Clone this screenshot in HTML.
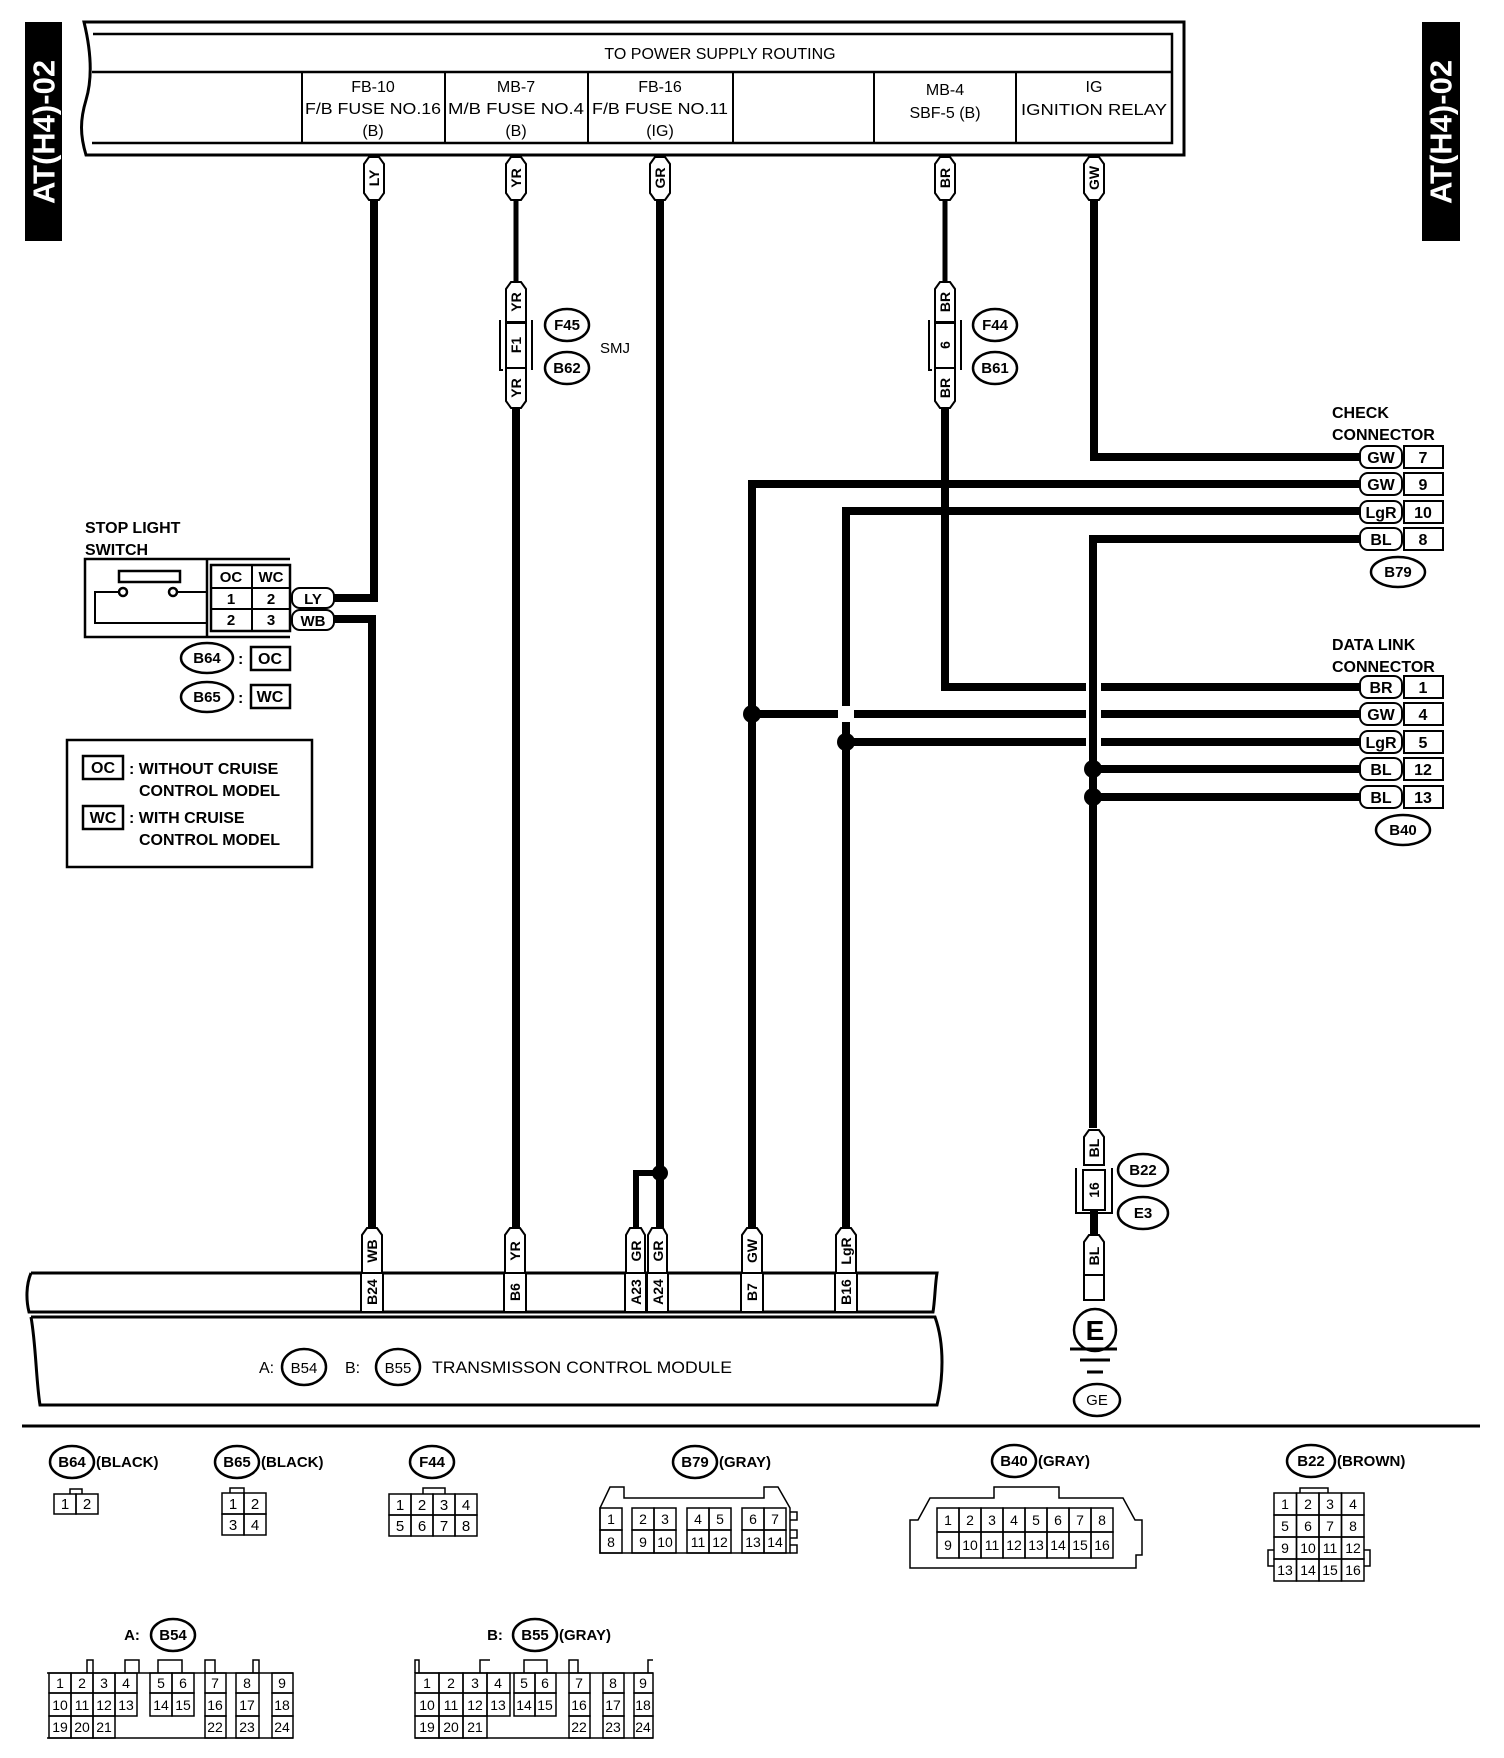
<!DOCTYPE html>
<html><head><meta charset="utf-8"><style>
html,body{margin:0;padding:0;background:#fff}
svg{display:block}
text{font-family:"Liberation Sans",sans-serif;fill:#000}
.c{fill:none;stroke:#000;stroke-width:1.5}
.n{font-size:15px;text-anchor:middle}
.b{font-weight:bold}
.w{fill:none;stroke:#000;stroke-width:8}
.t{fill:none;stroke:#000;stroke-width:5}
.p{fill:#fff;stroke:#000;stroke-width:2}
.r{font-size:14px;font-weight:bold;text-anchor:middle;dominant-baseline:central}
.e{fill:#fff;stroke:#000;stroke-width:2.5}
</style></head><body>
<svg width="1504" height="1758" viewBox="0 0 1504 1758" xmlns="http://www.w3.org/2000/svg">
<!-- side tabs -->
<rect x="25" y="22" width="37" height="219" fill="#000"/>
<text transform="translate(44,132) rotate(-90)" text-anchor="middle" dominant-baseline="central" style="font-size:31px;font-weight:bold;fill:#fff">AT(H4)-02</text>
<rect x="1422" y="22" width="38" height="219" fill="#000"/>
<text transform="translate(1441,132) rotate(-90)" text-anchor="middle" dominant-baseline="central" style="font-size:31px;font-weight:bold;fill:#fff">AT(H4)-02</text>

<!-- top box -->
<path d="M84,22 H1184 V155 H86 C80,135 80,120 86,100 C92,80 92,55 84,22 Z" fill="none" stroke="#000" stroke-width="3"/>
<path d="M93,34 H1172 V143 H92" fill="none" stroke="#000" stroke-width="2.5"/>
<line x1="92" y1="72" x2="1172" y2="72" stroke="#000" stroke-width="2.5"/>
<g stroke="#000" stroke-width="2">
<line x1="302" y1="72" x2="302" y2="143"/><line x1="445" y1="72" x2="445" y2="143"/>
<line x1="588" y1="72" x2="588" y2="143"/><line x1="733" y1="72" x2="733" y2="143"/>
<line x1="874" y1="72" x2="874" y2="143"/><line x1="1016" y1="72" x2="1016" y2="143"/>
</g>
<g class="n" style="font-size:16px">
<text x="720" y="59">TO POWER SUPPLY ROUTING</text>
<text x="373" y="92">FB-10</text><text x="373" y="114" textLength="136" lengthAdjust="spacingAndGlyphs">F/B FUSE NO.16</text><text x="373" y="136">(B)</text>
<text x="516" y="92">MB-7</text><text x="516" y="114" textLength="136" lengthAdjust="spacingAndGlyphs">M/B FUSE NO.4</text><text x="516" y="136">(B)</text>
<text x="660" y="92">FB-16</text><text x="660" y="114" textLength="136" lengthAdjust="spacingAndGlyphs">F/B FUSE NO.11</text><text x="660" y="136">(IG)</text>
<text x="945" y="95">MB-4</text><text x="945" y="118">SBF-5 (B)</text>
<text x="1094" y="92">IG</text><text x="1094" y="115" textLength="146" lengthAdjust="spacingAndGlyphs">IGNITION RELAY</text>
</g>

<!-- wires -->
<path class="t" d="M516,200 V282 M945,200 V282"/>
<path class="w" d="M374,200 V602 M374,602 V598 H333"/>
<path class="w" d="M333,619 H372 V1228"/>
<path class="w" d="M516,408 V1228"/>
<path class="w" d="M660,200 V1228"/>
<path class="w" d="M661,1173 H636 V1228" style="stroke-width:6"/>
<path class="w" d="M945,408 V687 H1360"/>
<path class="w" d="M1094,200 V457 H1360"/>
<path class="w" d="M1360,484 H752 V1228"/>
<path class="w" d="M1360,511 H846 V1228"/>
<path class="w" d="M752,714 H1360"/>
<path class="w" d="M846,742 H1360"/>
<path class="w" d="M1093,769 H1360 M1093,797 H1360"/>
<rect x="1086" y="680" width="15" height="70" fill="#fff"/>
<rect x="838" y="706" width="16" height="16" fill="#fff"/>
<path class="w" d="M1360,539 H1093 V1128"/>
<path class="w" d="M1094,1206 V1236"/>
<g fill="#000">
<circle cx="752" cy="714" r="9"/><circle cx="846" cy="742" r="9"/>
<circle cx="1093" cy="769" r="9"/><circle cx="1093" cy="797" r="9"/>
<circle cx="660" cy="1173" r="8"/>
</g>

<!-- top pills -->
<g class="p">
<path d="M364,164 L369,157 H379 L384,164 V193 L379,200 H369 L364,193 Z"/>
<path d="M506,164 L511,157 H521 L526,164 V193 L521,200 H511 L506,193 Z"/>
<path d="M650,164 L655,157 H665 L670,164 V193 L665,200 H655 L650,193 Z"/>
<path d="M935,164 L940,157 H950 L955,164 V193 L950,200 H940 L935,193 Z"/>
<path d="M1084,164 L1089,157 H1099 L1104,164 V193 L1099,200 H1089 L1084,193 Z"/>
<path d="M506,289 L511,282 H521 L526,289 V322 H506 Z"/>
<path d="M506,368 H526 V401 L521,408 H511 L506,401 Z"/>
<path d="M935,289 L940,282 H950 L955,289 V322 H935 Z"/>
<path d="M935,368 H955 V401 L950,408 H940 L935,401 Z"/>
</g>
<g class="r">
<text transform="translate(374,178) rotate(-90)">LY</text>
<text transform="translate(516,178) rotate(-90)">YR</text>
<text transform="translate(660,178) rotate(-90)">GR</text>
<text transform="translate(945,178) rotate(-90)">BR</text>
<text transform="translate(1094,178) rotate(-90)">GW</text>
<text transform="translate(516,302) rotate(-90)">YR</text>
<text transform="translate(516,388) rotate(-90)">YR</text>
<text transform="translate(945,302) rotate(-90)">BR</text>
<text transform="translate(945,388) rotate(-90)">BR</text>
</g>
<rect x="506" y="323" width="20" height="45" class="p"/>
<path d="M500,320 V370 H503 M532,320 V370" fill="none" stroke="#000" stroke-width="2"/>
<text class="r" transform="translate(516,345) rotate(-90)">F1</text>
<rect x="935" y="323" width="20" height="45" class="p"/>
<path d="M929,320 V370 H932 M961,320 V370" fill="none" stroke="#000" stroke-width="2"/>
<text class="r" transform="translate(945,345) rotate(-90)">6</text>
<g class="e"><ellipse cx="567" cy="325" rx="22" ry="16"/><ellipse cx="567" cy="368" rx="22" ry="16"/>
<ellipse cx="995" cy="325" rx="22" ry="16"/><ellipse cx="995" cy="368" rx="22" ry="16"/></g>
<g class="n b"><text x="567" y="330">F45</text><text x="567" y="373">B62</text>
<text x="995" y="330">F44</text><text x="995" y="373">B61</text></g>
<text x="600" y="353" style="font-size:15px">SMJ</text>

<!-- check connector -->
<g class="b" style="font-size:16px">
<text x="1332" y="418">CHECK</text><text x="1332" y="440">CONNECTOR</text>
<text x="1332" y="650">DATA LINK</text><text x="1332" y="672">CONNECTOR</text>
</g>
<g class="p">
<rect x="1360" y="446" width="42" height="22" rx="8"/><rect x="1360" y="473" width="42" height="22" rx="8"/>
<rect x="1360" y="501" width="42" height="22" rx="8"/><rect x="1360" y="528" width="42" height="22" rx="8"/>
<rect x="1404" y="446" width="39" height="22"/><rect x="1404" y="473" width="39" height="22"/>
<rect x="1404" y="501" width="39" height="22"/><rect x="1404" y="528" width="39" height="22"/>
<rect x="1360" y="676" width="42" height="22" rx="8"/><rect x="1360" y="703" width="42" height="22" rx="8"/>
<rect x="1360" y="731" width="42" height="22" rx="8"/><rect x="1360" y="758" width="42" height="22" rx="8"/>
<rect x="1360" y="786" width="42" height="22" rx="8"/>
<rect x="1404" y="676" width="39" height="22"/><rect x="1404" y="703" width="39" height="22"/>
<rect x="1404" y="731" width="39" height="22"/><rect x="1404" y="758" width="39" height="22"/>
<rect x="1404" y="786" width="39" height="22"/>
</g>
<g class="n b" style="font-size:16px">
<text x="1381" y="463">GW</text><text x="1423" y="463">7</text>
<text x="1381" y="490">GW</text><text x="1423" y="490">9</text>
<text x="1381" y="518">LgR</text><text x="1423" y="518">10</text>
<text x="1381" y="545">BL</text><text x="1423" y="545">8</text>
<text x="1381" y="693">BR</text><text x="1423" y="693">1</text>
<text x="1381" y="720">GW</text><text x="1423" y="720">4</text>
<text x="1381" y="748">LgR</text><text x="1423" y="748">5</text>
<text x="1381" y="775">BL</text><text x="1423" y="775">12</text>
<text x="1381" y="803">BL</text><text x="1423" y="803">13</text>
</g>
<ellipse class="e" cx="1398" cy="572" rx="27" ry="15"/><text class="n b" x="1398" y="577">B79</text>
<ellipse class="e" cx="1403" cy="830" rx="27" ry="15"/><text class="n b" x="1403" y="835">B40</text>

<!-- stop light switch -->
<g class="b" style="font-size:16px"><text x="85" y="533">STOP LIGHT</text><text x="85" y="555">SWITCH</text></g>
<path d="M290,559 H85 V637 H290 M207,559 V637" fill="none" stroke="#000" stroke-width="2.5"/>
<rect x="119" y="571" width="61" height="11" fill="none" stroke="#000" stroke-width="2.5"/>
<circle cx="123" cy="592" r="4" fill="none" stroke="#000" stroke-width="2.5"/>
<circle cx="173" cy="592" r="4" fill="none" stroke="#000" stroke-width="2.5"/>
<path d="M177,592 H207 M119,592 H95 V623 H207" fill="none" stroke="#000" stroke-width="2"/>
<rect x="211" y="565" width="79" height="66" fill="none" stroke="#000" stroke-width="2.5"/>
<path d="M211,588 H290 M211,609 H290 M252,565 V631" stroke="#000" stroke-width="2"/>
<g class="n b" style="font-size:15px"><text x="231" y="582">OC</text><text x="271" y="582">WC</text>
<text x="231" y="604">1</text><text x="271" y="604">2</text><text x="231" y="625">2</text><text x="271" y="625">3</text></g>
<rect x="292" y="588" width="42" height="20" rx="8" class="p"/><rect x="292" y="610" width="42" height="20" rx="8" class="p"/>
<g class="n b"><text x="313" y="604">LY</text><text x="313" y="626">WB</text></g>
<ellipse class="e" cx="207" cy="658" rx="26" ry="15"/><text class="n b" x="207" y="663">B64</text>
<ellipse class="e" cx="207" cy="697" rx="26" ry="15"/><text class="n b" x="207" y="702">B65</text>
<g class="b" style="font-size:16px"><text x="238" y="664">:</text><text x="238" y="703">:</text></g>
<rect x="251" y="647" width="39" height="23" fill="none" stroke="#000" stroke-width="2.5"/>
<rect x="251" y="685" width="39" height="23" fill="none" stroke="#000" stroke-width="2.5"/>
<g class="n b" style="font-size:16px"><text x="270" y="664">OC</text><text x="270" y="702">WC</text></g>

<!-- legend -->
<rect x="67" y="740" width="245" height="127" fill="none" stroke="#000" stroke-width="2.5"/>
<rect x="83" y="756" width="40" height="23" fill="none" stroke="#000" stroke-width="2.5"/>
<rect x="83" y="806" width="40" height="23" fill="none" stroke="#000" stroke-width="2.5"/>
<g class="b" style="font-size:16px">
<text x="103" y="773" text-anchor="middle">OC</text><text x="103" y="823" text-anchor="middle">WC</text>
<text x="129" y="774">: WITHOUT CRUISE</text><text x="139" y="796">CONTROL MODEL</text>
<text x="129" y="823">: WITH CRUISE</text><text x="139" y="845">CONTROL MODEL</text>
</g>

<!-- TCM -->
<path d="M31,1273 H937 C935,1285 935,1300 933,1312 H29 C26,1300 26,1285 31,1273" fill="none" stroke="#000" stroke-width="3"/>
<path d="M31,1317 H935 C945,1345 943,1380 937,1405 H40 C36,1380 36,1345 31,1317" fill="none" stroke="#000" stroke-width="3"/>
<g class="p">
<rect x="361" y="1273" width="22" height="39"/><rect x="504" y="1273" width="22" height="39"/>
<rect x="625" y="1273" width="21" height="39"/><rect x="647" y="1273" width="21" height="39"/>
<rect x="741" y="1273" width="22" height="39"/><rect x="835" y="1273" width="22" height="39"/>
<path d="M362,1235 L367,1228 H377 L382,1235 V1273 H362 Z"/>
<path d="M505,1235 L510,1228 H520 L525,1235 V1273 H505 Z"/>
<path d="M626,1235 L630,1228 H641 L645,1235 V1273 H626 Z"/>
<path d="M648,1235 L652,1228 H663 L667,1235 V1273 H648 Z"/>
<path d="M742,1235 L747,1228 H757 L762,1235 V1273 H742 Z"/>
<path d="M836,1235 L841,1228 H851 L856,1235 V1273 H836 Z"/>
</g>
<g class="r">
<text transform="translate(372,1251) rotate(-90)">WB</text><text transform="translate(515,1251) rotate(-90)">YR</text>
<text transform="translate(636,1251) rotate(-90)">GR</text><text transform="translate(658,1251) rotate(-90)">GR</text>
<text transform="translate(752,1251) rotate(-90)">GW</text><text transform="translate(846,1251) rotate(-90)">LgR</text>
<text transform="translate(372,1292) rotate(-90)">B24</text><text transform="translate(515,1292) rotate(-90)">B6</text>
<text transform="translate(636,1292) rotate(-90)">A23</text><text transform="translate(658,1292) rotate(-90)">A24</text>
<text transform="translate(752,1292) rotate(-90)">B7</text><text transform="translate(846,1292) rotate(-90)">B16</text>
</g>
<text x="259" y="1373" style="font-size:16px">A:</text>
<ellipse class="e" cx="304" cy="1367" rx="22" ry="18"/><text class="n" x="304" y="1373" style="font-size:15px">B54</text>
<text x="345" y="1373" style="font-size:16px">B:</text>
<ellipse class="e" cx="398" cy="1367" rx="22" ry="18"/><text class="n" x="398" y="1373" style="font-size:15px">B55</text>
<text x="432" y="1373" style="font-size:17px" textLength="300" lengthAdjust="spacingAndGlyphs">TRANSMISSON CONTROL MODULE</text>

<!-- ground -->
<g class="p">
<path d="M1084,1137 L1089,1130 H1099 L1104,1137 V1165 H1084 Z"/>
<path d="M1084,1242 L1089,1235 H1099 L1104,1242 V1275 H1084 Z"/>
<rect x="1084" y="1275" width="20" height="25"/>
<rect x="1083" y="1170" width="22" height="40"/>
</g>
<path d="M1076,1168 V1213 H1112 V1168" fill="none" stroke="#000" stroke-width="2"/>
<g class="r"><text transform="translate(1094,1148) rotate(-90)">BL</text>
<text transform="translate(1094,1256) rotate(-90)">BL</text>
<text transform="translate(1094,1190) rotate(-90)">16</text></g>
<circle cx="1095" cy="1330" r="21" class="e"/>
<text x="1095" y="1340" text-anchor="middle" style="font-size:28px;font-weight:bold">E</text>
<path d="M1070,1349 H1117 M1080,1360 H1110 M1087,1372 H1103" stroke="#000" stroke-width="3"/>
<ellipse class="e" cx="1097" cy="1400" rx="23" ry="16"/><text class="n" x="1097" y="1405">GE</text>
<ellipse class="e" cx="1143" cy="1170" rx="25" ry="16"/><text class="n b" x="1143" y="1175">B22</text>
<ellipse class="e" cx="1143" cy="1213" rx="25" ry="16"/><text class="n b" x="1143" y="1218">E3</text>

<line x1="22" y1="1426" x2="1480" y2="1426" stroke="#000" stroke-width="3"/>

<g class="e">
<ellipse cx="72" cy="1462" rx="22" ry="16"/><ellipse cx="237" cy="1462" rx="22" ry="16"/>
<ellipse cx="432" cy="1462" rx="22" ry="16"/><ellipse cx="695" cy="1462" rx="22" ry="16"/>
<ellipse cx="1014" cy="1461" rx="22" ry="16"/><ellipse cx="1311" cy="1461" rx="24" ry="16"/>
<ellipse cx="173" cy="1635" rx="22" ry="16"/><ellipse cx="535" cy="1635" rx="22" ry="16"/>
</g>
<g class="b" style="font-size:15px">
<text x="72" y="1467" text-anchor="middle">B64</text><text x="96" y="1467">(BLACK)</text>
<text x="237" y="1467" text-anchor="middle">B65</text><text x="261" y="1467">(BLACK)</text>
<text x="432" y="1467" text-anchor="middle">F44</text>
<text x="695" y="1467" text-anchor="middle">B79</text><text x="719" y="1467">(GRAY)</text>
<text x="1014" y="1466" text-anchor="middle">B40</text><text x="1038" y="1466">(GRAY)</text>
<text x="1311" y="1466" text-anchor="middle">B22</text><text x="1337" y="1466">(BROWN)</text>
<text x="132" y="1640" text-anchor="middle">A:</text><text x="173" y="1640" text-anchor="middle">B54</text>
<text x="495" y="1640" text-anchor="middle">B:</text><text x="535" y="1640" text-anchor="middle">B55</text><text x="559" y="1640">(GRAY)</text>
</g>

<!-- B64 -->
<path class="c" d="M70,1494 V1489 H82 V1494"/>
<rect class="c" x="54" y="1494" width="22" height="20"/><rect class="c" x="76" y="1494" width="22" height="20"/>
<g class="n"><text x="65" y="1509">1</text><text x="87" y="1509">2</text></g>
<!-- B65 -->
<path class="c" d="M230,1493 V1488 H244 V1493"/>
<rect class="c" x="222" y="1493" width="22" height="21"/><rect class="c" x="244" y="1493" width="22" height="21"/>
<rect class="c" x="222" y="1514" width="22" height="21"/><rect class="c" x="244" y="1514" width="22" height="21"/>
<g class="n"><text x="233" y="1509">1</text><text x="255" y="1509">2</text><text x="233" y="1530">3</text><text x="255" y="1530">4</text></g>
<!-- F44 -->
<path class="c" d="M423,1494 V1488 H445 V1494"/>
<g class="c">
<rect x="389" y="1494" width="22" height="21"/><rect x="411" y="1494" width="22" height="21"/><rect x="433" y="1494" width="22" height="21"/><rect x="455" y="1494" width="22" height="21"/>
<rect x="389" y="1515" width="22" height="21"/><rect x="411" y="1515" width="22" height="21"/><rect x="433" y="1515" width="22" height="21"/><rect x="455" y="1515" width="22" height="21"/>
</g>
<g class="n"><text x="400" y="1510">1</text><text x="422" y="1510">2</text><text x="444" y="1510">3</text><text x="466" y="1510">4</text>
<text x="400" y="1531">5</text><text x="422" y="1531">6</text><text x="444" y="1531">7</text><text x="466" y="1531">8</text></g>
<!-- B79 -->
<path class="c" d="M600,1553 V1508 L610,1487 H624 V1498 H764 V1487 H778 L790,1508 V1553 Z"/>
<path class="c" d="M790,1512 H797 V1520 H790 M790,1530 H797 V1538 H790 M790,1545 H797 V1553 H790"/>
<g class="c">
<rect x="600" y="1508" width="22" height="22"/><rect x="600" y="1530" width="22" height="23"/>
<rect x="632" y="1508" width="22" height="22"/><rect x="654" y="1508" width="22" height="22"/>
<rect x="632" y="1530" width="22" height="23"/><rect x="654" y="1530" width="22" height="23"/>
<rect x="687" y="1508" width="22" height="22"/><rect x="709" y="1508" width="22" height="22"/>
<rect x="687" y="1530" width="22" height="23"/><rect x="709" y="1530" width="22" height="23"/>
<rect x="742" y="1508" width="22" height="22"/><rect x="764" y="1508" width="22" height="22"/>
<rect x="742" y="1530" width="22" height="23"/><rect x="764" y="1530" width="22" height="23"/>
</g>
<g class="n" style="font-size:14px">
<text x="611" y="1524">1</text><text x="611" y="1547">8</text>
<text x="643" y="1524">2</text><text x="665" y="1524">3</text><text x="643" y="1547">9</text><text x="665" y="1547">10</text>
<text x="698" y="1524">4</text><text x="720" y="1524">5</text><text x="698" y="1547">11</text><text x="720" y="1547">12</text>
<text x="753" y="1524">6</text><text x="775" y="1524">7</text><text x="753" y="1547">13</text><text x="775" y="1547">14</text>
</g>
<!-- B40 -->
<path class="c" d="M910,1568 V1520 H918 L930,1498 H994 V1487 H1059 V1498 H1123 L1135,1520 H1142 V1555 H1136 V1568 Z"/>
<g class="c">
<rect x="937" y="1508" width="22" height="24"/><rect x="959" y="1508" width="22" height="24"/><rect x="981" y="1508" width="22" height="24"/><rect x="1003" y="1508" width="22" height="24"/>
<rect x="1025" y="1508" width="22" height="24"/><rect x="1047" y="1508" width="22" height="24"/><rect x="1069" y="1508" width="22" height="24"/><rect x="1091" y="1508" width="22" height="24"/>
<rect x="937" y="1532" width="22" height="26"/><rect x="959" y="1532" width="22" height="26"/><rect x="981" y="1532" width="22" height="26"/><rect x="1003" y="1532" width="22" height="26"/>
<rect x="1025" y="1532" width="22" height="26"/><rect x="1047" y="1532" width="22" height="26"/><rect x="1069" y="1532" width="22" height="26"/><rect x="1091" y="1532" width="22" height="26"/>
</g>
<g class="n" style="font-size:14px">
<text x="948" y="1525">1</text><text x="970" y="1525">2</text><text x="992" y="1525">3</text><text x="1014" y="1525">4</text><text x="1036" y="1525">5</text><text x="1058" y="1525">6</text><text x="1080" y="1525">7</text><text x="1102" y="1525">8</text>
<text x="948" y="1550">9</text><text x="970" y="1550">10</text><text x="992" y="1550">11</text><text x="1014" y="1550">12</text><text x="1036" y="1550">13</text><text x="1058" y="1550">14</text><text x="1080" y="1550">15</text><text x="1102" y="1550">16</text>
</g>
<!-- B22 -->
<path class="c" d="M1300,1493 V1488 H1328 V1493 M1274,1550 H1268 V1566 H1274 M1364,1550 H1370 V1566 H1364"/>
<g class="c">
<rect x="1274" y="1493" width="22.5" height="22"/><rect x="1296.5" y="1493" width="22.5" height="22"/><rect x="1319" y="1493" width="22.5" height="22"/><rect x="1341.5" y="1493" width="22.5" height="22"/>
<rect x="1274" y="1515" width="22.5" height="22"/><rect x="1296.5" y="1515" width="22.5" height="22"/><rect x="1319" y="1515" width="22.5" height="22"/><rect x="1341.5" y="1515" width="22.5" height="22"/>
<rect x="1274" y="1537" width="22.5" height="22"/><rect x="1296.5" y="1537" width="22.5" height="22"/><rect x="1319" y="1537" width="22.5" height="22"/><rect x="1341.5" y="1537" width="22.5" height="22"/>
<rect x="1274" y="1559" width="22.5" height="22"/><rect x="1296.5" y="1559" width="22.5" height="22"/><rect x="1319" y="1559" width="22.5" height="22"/><rect x="1341.5" y="1559" width="22.5" height="22"/>
</g>
<g class="n" style="font-size:14px">
<text x="1285" y="1509">1</text><text x="1308" y="1509">2</text><text x="1330" y="1509">3</text><text x="1353" y="1509">4</text>
<text x="1285" y="1531">5</text><text x="1308" y="1531">6</text><text x="1330" y="1531">7</text><text x="1353" y="1531">8</text>
<text x="1285" y="1553">9</text><text x="1308" y="1553">10</text><text x="1330" y="1553">11</text><text x="1353" y="1553">12</text>
<text x="1285" y="1575">13</text><text x="1308" y="1575">14</text><text x="1330" y="1575">15</text><text x="1353" y="1575">16</text>
</g>
<!-- B54 -->
<path class="c" d="M47,1673 H293 M47,1738 H293 M87,1673 V1660 H93 V1673 M125,1673 V1660 H139 V1673 M158,1673 V1660 H182 V1673 M205,1673 V1660 H215 V1673 M253,1673 V1660 H259 V1673"/>
<g class="c">
<rect x="49" y="1673" width="22" height="20"/><rect x="71" y="1673" width="22" height="20"/><rect x="93" y="1673" width="22" height="20"/><rect x="115" y="1673" width="22" height="20"/>
<rect x="49" y="1693" width="22" height="23"/><rect x="71" y="1693" width="22" height="23"/><rect x="93" y="1693" width="22" height="23"/><rect x="115" y="1693" width="22" height="23"/>
<rect x="49" y="1716" width="22" height="22"/><rect x="71" y="1716" width="22" height="22"/><rect x="93" y="1716" width="22" height="22"/>
<rect x="150" y="1673" width="22" height="20"/><rect x="172" y="1673" width="22" height="20"/>
<rect x="150" y="1693" width="22" height="23"/><rect x="172" y="1693" width="22" height="23"/>
<rect x="205" y="1673" width="21" height="20"/><rect x="205" y="1693" width="21" height="23"/><rect x="205" y="1716" width="21" height="22"/>
<rect x="236" y="1673" width="23" height="20"/><rect x="236" y="1693" width="23" height="23"/><rect x="236" y="1716" width="23" height="22"/>
<rect x="272" y="1673" width="21" height="20"/><rect x="272" y="1693" width="21" height="23"/><rect x="272" y="1716" width="21" height="22"/>
</g>
<g class="n" style="font-size:14px">
<text x="60" y="1688">1</text><text x="82" y="1688">2</text><text x="104" y="1688">3</text><text x="126" y="1688">4</text>
<text x="60" y="1710">10</text><text x="82" y="1710">11</text><text x="104" y="1710">12</text><text x="126" y="1710">13</text>
<text x="60" y="1732">19</text><text x="82" y="1732">20</text><text x="104" y="1732">21</text>
<text x="161" y="1688">5</text><text x="183" y="1688">6</text><text x="161" y="1710">14</text><text x="183" y="1710">15</text>
<text x="215" y="1688">7</text><text x="215" y="1710">16</text><text x="215" y="1732">22</text>
<text x="247" y="1688">8</text><text x="247" y="1710">17</text><text x="247" y="1732">23</text>
<text x="282" y="1688">9</text><text x="282" y="1710">18</text><text x="282" y="1732">24</text>
</g>
<!-- B55 -->
<path class="c" d="M415,1673 H653 M415,1738 H653 M415,1673 V1660 H419 V1673 M480,1673 V1660 H490 M524,1673 V1660 H547 V1673 M569,1673 V1660 H578 V1673 M648,1673 V1660 H653"/>
<g class="c">
<rect x="415" y="1673" width="24" height="20"/><rect x="439" y="1673" width="24" height="20"/><rect x="463" y="1673" width="24" height="20"/><rect x="487" y="1673" width="23" height="20"/>
<rect x="415" y="1693" width="24" height="23"/><rect x="439" y="1693" width="24" height="23"/><rect x="463" y="1693" width="24" height="23"/><rect x="487" y="1693" width="23" height="23"/>
<rect x="415" y="1716" width="24" height="22"/><rect x="439" y="1716" width="24" height="22"/><rect x="463" y="1716" width="24" height="22"/>
<rect x="514" y="1673" width="21" height="20"/><rect x="535" y="1673" width="21" height="20"/>
<rect x="514" y="1693" width="21" height="23"/><rect x="535" y="1693" width="21" height="23"/>
<rect x="569" y="1673" width="21" height="20"/><rect x="569" y="1693" width="21" height="23"/><rect x="569" y="1716" width="21" height="22"/>
<rect x="603" y="1673" width="21" height="20"/><rect x="603" y="1693" width="21" height="23"/><rect x="603" y="1716" width="21" height="22"/>
<rect x="634" y="1673" width="19" height="20"/><rect x="634" y="1693" width="19" height="23"/><rect x="634" y="1716" width="19" height="22"/>
</g>
<g class="n" style="font-size:14px">
<text x="427" y="1688">1</text><text x="451" y="1688">2</text><text x="475" y="1688">3</text><text x="498" y="1688">4</text>
<text x="427" y="1710">10</text><text x="451" y="1710">11</text><text x="475" y="1710">12</text><text x="498" y="1710">13</text>
<text x="427" y="1732">19</text><text x="451" y="1732">20</text><text x="475" y="1732">21</text>
<text x="524" y="1688">5</text><text x="545" y="1688">6</text><text x="524" y="1710">14</text><text x="545" y="1710">15</text>
<text x="579" y="1688">7</text><text x="579" y="1710">16</text><text x="579" y="1732">22</text>
<text x="613" y="1688">8</text><text x="613" y="1710">17</text><text x="613" y="1732">23</text>
<text x="643" y="1688">9</text><text x="643" y="1710">18</text><text x="643" y="1732">24</text>
</g>
</svg>
</body></html>
